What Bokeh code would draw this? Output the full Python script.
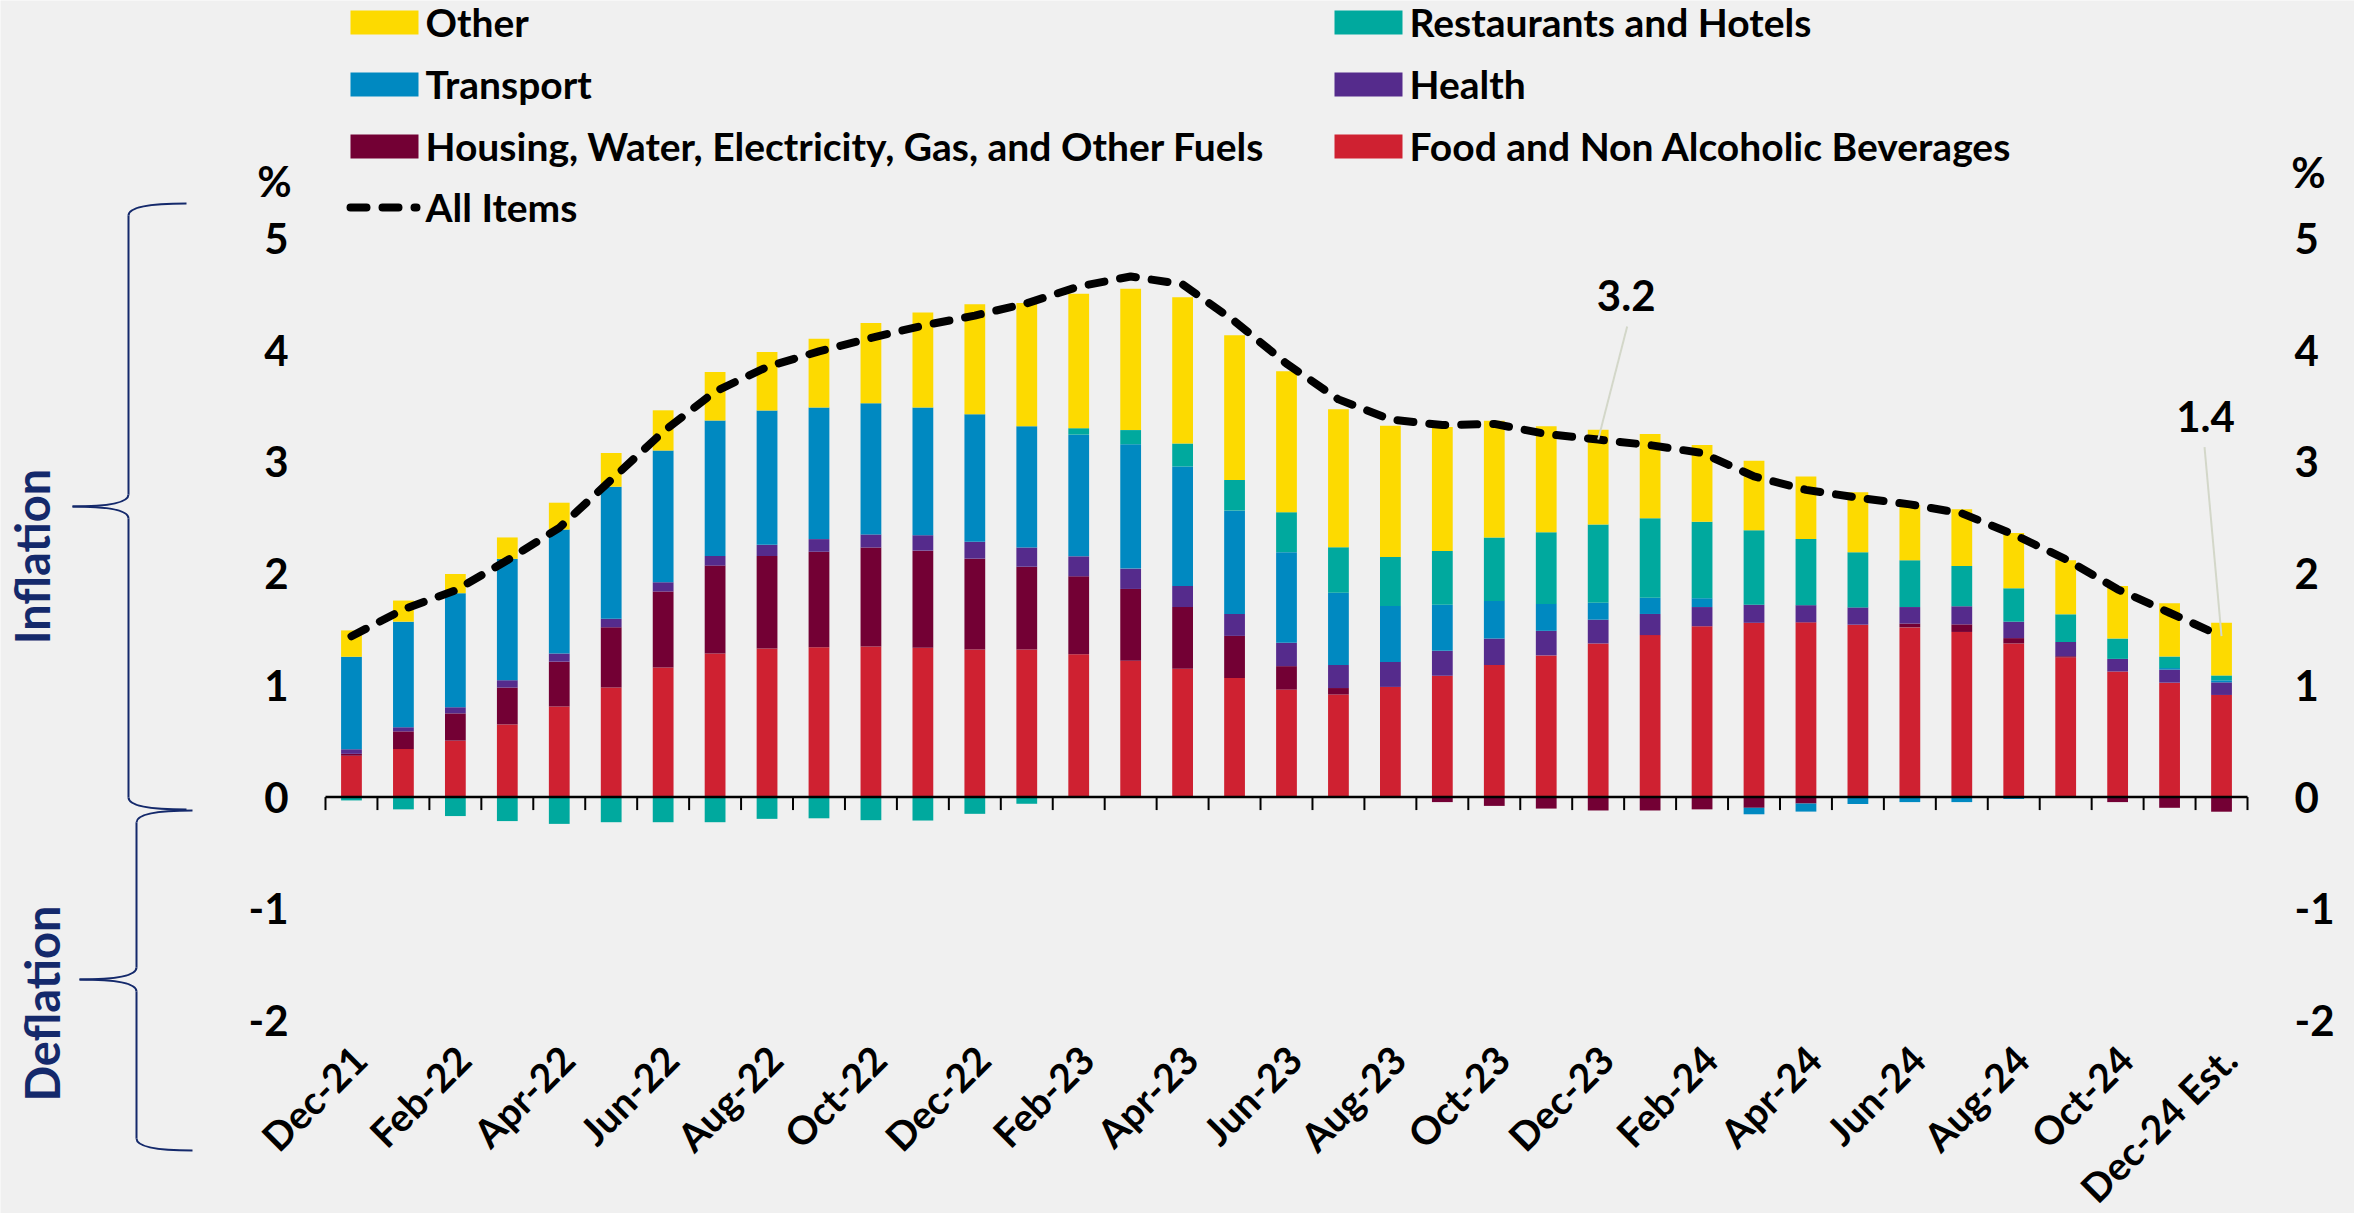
import math
import re
import numpy as np
from bokeh.plotting import figure
from bokeh.models import Range1d, LinearAxis, FixedTicker, Label, BoxAnnotation, Arrow
from bokeh.embed import file_html
from bokeh.resources import INLINE

# ---------------- data ----------------
months = ["Dec-21", "Jan-22", "Feb-22", "Mar-22", "Apr-22", "May-22", "Jun-22", "Jul-22",
          "Aug-22", "Sep-22", "Oct-22", "Nov-22", "Dec-22", "Jan-23", "Feb-23", "Mar-23",
          "Apr-23", "May-23", "Jun-23", "Jul-23", "Aug-23", "Sep-23", "Oct-23", "Nov-23",
          "Dec-23", "Jan-24", "Feb-24", "Mar-24", "Apr-24", "May-24", "Jun-24", "Jul-24",
          "Aug-24", "Sep-24", "Oct-24", "Nov-24", "Dec-24 Est."]

food = [0.37, 0.43, 0.505, 0.65, 0.81, 0.98, 1.16, 1.285, 1.33, 1.34, 1.347, 1.337, 1.32,
        1.32, 1.278, 1.22, 1.148, 1.065, 0.962, 0.918, 0.986, 1.086, 1.182, 1.268, 1.375,
        1.45, 1.529, 1.56, 1.564, 1.543, 1.519, 1.478, 1.375, 1.251, 1.124, 1.024, 0.914]
housing = [0.017, 0.158, 0.244, 0.33, 0.402, 0.54, 0.68, 0.787, 0.828, 0.856, 0.887, 0.869,
           0.814, 0.742, 0.698, 0.643, 0.553, 0.378, 0.21, 0.058, 0.0, -0.045, -0.079,
           -0.103, -0.12, -0.12, -0.11, -0.096, -0.058, 0.0, 0.034, 0.068, 0.048, 0.01,
           -0.045, -0.096, -0.131]
health = [0.041, 0.037, 0.055, 0.066, 0.073, 0.076, 0.083, 0.086, 0.1, 0.113, 0.117, 0.138,
          0.151, 0.172, 0.179, 0.182, 0.189, 0.196, 0.209, 0.206, 0.224, 0.223, 0.237, 0.22,
          0.213, 0.189, 0.172, 0.162, 0.154, 0.155, 0.148, 0.162, 0.147, 0.127, 0.113,
          0.117, 0.113]
transport = [0.828, 0.945, 1.021, 1.086, 1.11, 1.182, 1.179, 1.213, 1.202, 1.179, 1.175,
             1.144, 1.141, 1.086, 1.089, 1.113, 1.069, 0.925, 0.811, 0.646, 0.501, 0.413,
             0.337, 0.241, 0.151, 0.145, 0.079, -0.058, -0.072, -0.062, -0.045, -0.045,
             -0.017, 0.0, 0.0, 0.014, 0.018]
restaurants = [-0.03, -0.11, -0.17, -0.215, -0.24, -0.225, -0.225, -0.225, -0.195, -0.19,
               -0.207, -0.21, -0.15, -0.06, 0.058, 0.127, 0.206, 0.274, 0.358, 0.409, 0.437,
               0.481, 0.567, 0.642, 0.701, 0.711, 0.684, 0.666, 0.591, 0.494, 0.419, 0.361,
               0.299, 0.248, 0.182, 0.103, 0.044]
other = [0.236, 0.189, 0.172, 0.192, 0.24, 0.302, 0.36, 0.433, 0.523, 0.615, 0.718, 0.849,
         0.986, 1.103, 1.203, 1.265, 1.309, 1.296, 1.261, 1.234, 1.175, 1.11, 1.045, 0.949,
         0.849, 0.756, 0.687, 0.622, 0.56, 0.537, 0.492, 0.508, 0.495, 0.484, 0.471, 0.477,
         0.471]
all_items = [1.44, 1.68, 1.85, 2.12, 2.41, 2.84, 3.27, 3.63, 3.85, 3.99, 4.11, 4.22, 4.31,
             4.42, 4.57, 4.66, 4.59, 4.26, 3.88, 3.56, 3.38, 3.33, 3.34, 3.25, 3.20, 3.15,
             3.08, 2.87, 2.75, 2.68, 2.62, 2.54, 2.35, 2.13, 1.86, 1.65, 1.44]

series_names = ["Food and Non Alcoholic Beverages",
                "Housing, Water, Electricity, Gas, and Other Fuels",
                "Health", "Transport", "Restaurants and Hotels", "Other"]
line_name = "All Items"
y_ticks = [-2, -1, 0, 1, 2, 3, 4, 5]
y_tick_labels = ["-2", "-1", "0", "1", "2", "3", "4", "5"]
side_labels = ["Inflation", "Deflation"]
unit_label = "%"

# ---------------- styles / geometry ----------------
colors = ["#CF2131", "#730034", "#552B8C", "#0089C1", "#00A99E", "#FDDA00"]
BG = "#F0F0F0"
NAVY = "#14296B"
FONT = "Lato"
LINE_DASH = "16 16"
LINE_W = 8

M = 0                      # the page template puts the figure at the top-left corner
FIG_W, FIG_H = 2354, 1213
FRAME_L, FRAME_R, FRAME_T, FRAME_B = 325, 2247, 238, 1020   # chart area, page px

n = len(months)
X0, X1 = -0.5, n - 0.5
Y0, Y1 = -2, 5
KX = (FRAME_R - FRAME_L) / (X1 - X0)
KY = (FRAME_B - FRAME_T) / (Y1 - Y0)


def dx(px):
    return X0 + (px - FRAME_L) / KX


def dy(py):
    return Y1 - (py - FRAME_T) / KY


p = figure(width=FIG_W, height=FIG_H,
           x_range=Range1d(dx(M), dx(M + FIG_W)), y_range=Range1d(dy(M + FIG_H), dy(M)),
           output_backend="svg", toolbar_location=None, min_border=0,
           min_border_left=0, min_border_right=0, min_border_top=0, min_border_bottom=0,
           background_fill_color=BG, border_fill_color=BG, outline_line_color=None)
p.xgrid.visible = False
p.ygrid.visible = False

# stacked bars (positive and negative stacks separately)
x = np.arange(n)
pos_base = np.zeros(n)
neg_base = np.zeros(n)
for vals, col in zip([food, housing, health, transport, restaurants, other], colors):
    v = np.array(vals, dtype=float)
    bottom = np.where(v >= 0, pos_base, neg_base)
    top = bottom + v
    pos_base = np.where(v >= 0, top, pos_base)
    neg_base = np.where(v < 0, top, neg_base)
    p.vbar(x=x, bottom=bottom, top=top, width=0.4, fill_color=col, line_color=None)

# zero axis line and between-category ticks
p.segment(x0=[X0], y0=[0], x1=[X1], y1=[0], line_color="black", line_width=2.5)
tick_x = np.arange(n + 1) - 0.5
p.segment(x0=tick_x, y0=np.zeros(n + 1), x1=tick_x, y1=np.full(n + 1, -13 / KY),
          line_color="black", line_width=2)

# All items line
p.line(x=x, y=all_items, line_color="black", line_width=LINE_W, line_dash=LINE_DASH,
       line_cap="round", line_join="round")

# axes (pinned to the chart-area edges)
xa = p.xaxis[0]
xa.fixed_location = Y0
label_shift = 8 / KX      # rotated labels end slightly right of the category centre
xa.ticker = FixedTicker(ticks=[i + label_shift for i in range(0, n, 2)], minor_ticks=[])
xa.major_label_overrides = {i + label_shift: months[i] for i in range(0, n, 2)}
xa.major_label_orientation = math.pi / 4
xa.axis_line_color = None
xa.major_tick_line_color = None
xa.minor_tick_line_color = None
xa.major_tick_out = 0
xa.major_tick_in = 0
xa.major_label_standoff = 32
xa.major_label_text_font = FONT
xa.major_label_text_font_style = "bold"
xa.major_label_text_font_size = "39px"
xa.major_label_text_color = "black"

ya = p.yaxis[0]
ya.fixed_location = X0
ra = LinearAxis(fixed_location=X1)
p.add_layout(ra, "right")
for ax, so in [(ya, 37), (ra, 47)]:
    ax.ticker = FixedTicker(ticks=y_ticks, minor_ticks=[])
    ax.major_label_overrides = {t: s for t, s in zip(y_ticks, y_tick_labels)}
    ax.axis_line_color = None
    ax.major_tick_line_color = None
    ax.minor_tick_line_color = None
    ax.major_tick_out = 0
    ax.major_tick_in = 0
    ax.major_label_standoff = so
    ax.major_label_text_font = FONT
    ax.major_label_text_font_style = "bold"
    ax.major_label_text_font_size = "42px"
    ax.major_label_text_color = "black"

# unit labels
for px, py in [(274, 180), (2308, 171)]:
    p.add_layout(Label(x=dx(px), y=dy(py), text=unit_label, text_align="center",
                       text_baseline="middle", text_font=FONT, text_font_style="bold",
                       text_font_size="42px", text_color="black"))

# legend (manual, two columns)
legend_left = [(series_names[5], colors[5]), (series_names[3], colors[3]),
               (series_names[1], colors[1])]
legend_right = [(series_names[4], colors[4]), (series_names[2], colors[2]),
                (series_names[0], colors[0])]
row_y = [22, 84, 146]
for items, sx in [(legend_left, 350), (legend_right, 1334)]:
    for (name, col), yc in zip(items, row_y):
        p.add_layout(BoxAnnotation(left=dx(sx), right=dx(sx + 68), top=dy(yc - 12),
                                   bottom=dy(yc + 12), fill_color=col, fill_alpha=1.0,
                                   line_color=None))
        p.add_layout(Label(x=dx(sx + 75), y=dy(yc - 1), text=name, text_align="left",
                           text_baseline="middle", text_font=FONT, text_font_style="bold",
                           text_font_size="39px", text_color="black"))
p.add_layout(Arrow(start=None, end=None, x_start=dx(350), y_start=dy(207), x_end=dx(416),
                   y_end=dy(207), line_color="black", line_width=LINE_W, line_dash=LINE_DASH,
                   line_cap="round"))
p.add_layout(Label(x=dx(425), y=dy(206), text=line_name, text_align="left",
                   text_baseline="middle", text_font=FONT, text_font_style="bold",
                   text_font_size="39px", text_color="black"))

# data labels with leader lines
for idx, (lox, loy), (sox, soy) in [(24, (28, -144), (29, -113)),
                                     (n - 1, (-16, -220), (-17, -189))]:
    xv, yv = x[idx], all_items[idx]
    p.segment(x0=[xv + sox / KX], y0=[yv - soy / KY], x1=[xv], y1=[yv],
              line_color="#D3D7C9", line_width=2)
    p.add_layout(Label(x=xv + lox / KX, y=yv - loy / KY, text=f"{yv:.1f}",
                       text_align="center", text_baseline="middle", text_font=FONT,
                       text_font_style="bold", text_font_size="42px", text_color="black"))


# braces and side labels (left margin)
def brace(x_end, x_bar, x_tip, y_top, y_mid, y_bot, r=12):
    curves = [((x_end, y_top), (x_bar, y_top), (x_bar, y_top + r)),
              ((x_bar, y_mid - r), (x_bar, y_mid), (x_tip, y_mid)),
              ((x_tip, y_mid), (x_bar, y_mid), (x_bar, y_mid + r)),
              ((x_bar, y_bot - r), (x_bar, y_bot), (x_end, y_bot))]
    for (a, c, b) in curves:
        p.quadratic(x0=[dx(a[0])], y0=[dy(a[1])], x1=[dx(b[0])], y1=[dy(b[1])],
                    cx=[dx(c[0])], cy=[dy(c[1])], line_color=NAVY, line_width=2)
    for ya_, yb_ in [(y_top + r, y_mid - r), (y_mid + r, y_bot - r)]:
        p.segment(x0=[dx(x_bar)], y0=[dy(ya_)], x1=[dx(x_bar)], y1=[dy(yb_)],
                  line_color=NAVY, line_width=2)


brace(186, 128, 72, 203, 506, 809)
brace(192, 136, 79, 810, 979, 1150)

for txt, (px, py) in zip(side_labels, [(31, 556), (41, 1003)]):
    p.add_layout(Label(x=dx(px), y=dy(py), text=txt, angle=math.pi / 2, text_align="center",
                       text_baseline="middle", text_font=FONT, text_font_style="bold",
                       text_font_size="47px", text_color=NAVY))

html = file_html(p, INLINE, "Inflation contributions")
html = re.sub(r"<body([^>]*)>", r'<body\1 style="background-color:%s;">' % BG, html, count=1)
open("out.html", "w").write(html)
